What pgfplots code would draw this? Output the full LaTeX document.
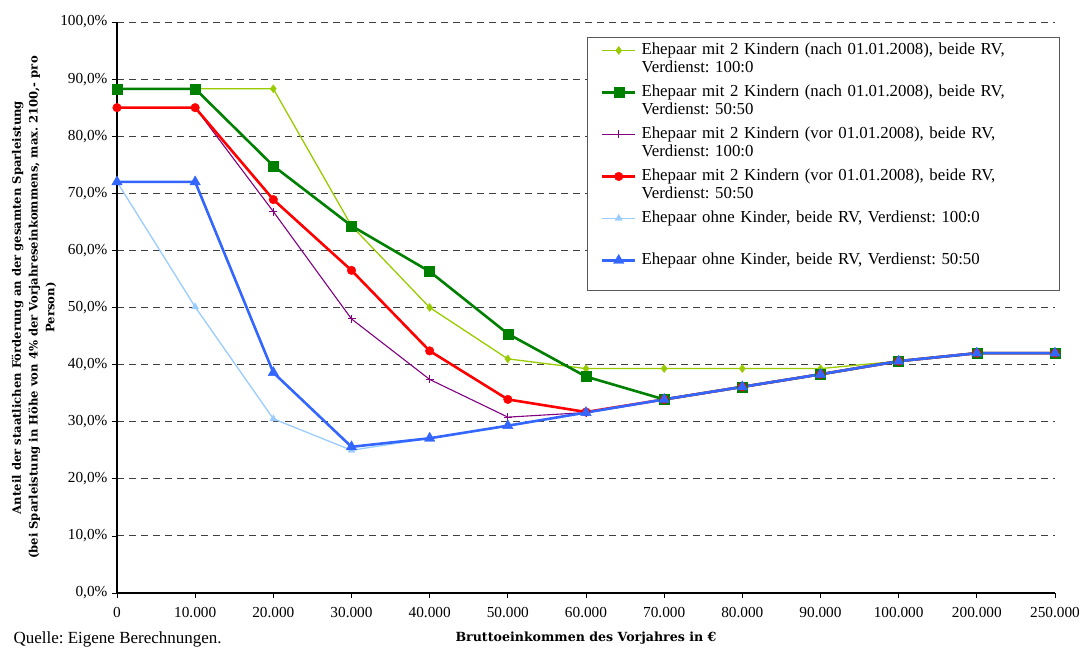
\documentclass[border=0pt]{standalone}
\usepackage{pgfplots}
\pgfplotsset{compat=1.18}
\usepackage{fontspec}
\setmainfont{Liberation Serif}
\newfontfamily\labfont{DejaVu Serif}
\definecolor{clime}{HTML}{99CC00}
\definecolor{cgreen}{HTML}{008000}
\definecolor{cpurple}{HTML}{800080}
\definecolor{cred}{HTML}{FF0000}
\definecolor{clblue}{HTML}{99CCFF}
\definecolor{cblue}{HTML}{3366FF}
\newcommand{\twoline}[2]{\makebox[0pt][l]{\smash{\raisebox{-18pt}{#2}}}#1}
\frenchspacing
\begin{document}
\begin{tikzpicture}
\begin{axis}[
  scale only axis, width=938pt, height=571pt,
  xmin=0, xmax=12, ymin=0, ymax=100,
  axis x line*=bottom, axis y line*=left,
  axis line style={black, line width=1.2pt},
  xtick={0,1,...,12},
  xticklabels={0,10.000,20.000,30.000,40.000,50.000,60.000,70.000,80.000,90.000,100.000,200.000,250.000},
  ytick={0,10,...,100},
  yticklabels={{0,0\%},{10,0\%},{20,0\%},{30,0\%},{40,0\%},{50,0\%},{60,0\%},{70,0\%},{80,0\%},{90,0\%},{100,0\%}},
  tick align=outside, major tick length=5pt,
  tick style={black, line width=0.8pt},
  ticklabel style={font=\fontsize{15.3}{17}\selectfont},
  xticklabel style={yshift=-6pt},
  yticklabel style={xshift=-1pt},
  ymajorgrids, xmajorgrids=false,
  grid style={black!75, line width=0.9pt, dash pattern=on 7pt off 5pt},
  xlabel={Bruttoeinkommen des Vorjahres in €},
  xlabel style={at={(axis description cs:0.5,-0.0788)}, anchor=center, font=\labfont\bfseries\fontsize{12.6}{14}\selectfont},
  ylabel={Anteil der staatlichen Förderung an der gesamten Sparleistung\\(bei Sparleistung in Höhe von 4\% der Vorjahreseinkommens, max. 2100,- pro\\Person)},
  ylabel style={at={(axis description cs:-0.0885,0.5)}, anchor=center, align=center, font=\labfont\bfseries\fontsize{11.6}{16.8}\selectfont},
  legend style={at={(1.0053,0.9737)}, anchor=north east, draw=black!65, line width=0.9pt,
    font=\fontsize{16.8}{18}\selectfont, inner xsep=13pt, inner ysep=0pt,
    row sep=16pt, column sep=5pt,
    nodes={text height=17.5pt, text depth=8.5pt, inner xsep=0pt, inner ysep=0pt, text width=405pt, anchor=west}},
  legend cell align=left,
  legend image code/.code={\draw[mark repeat=2,mark phase=2] plot coordinates {(0pt,0pt)(16.5pt,0pt)(33pt,0pt)};},
]
\addplot[clime, line width=1.3pt, mark=diamond*, mark size=4pt, mark options={solid, fill=clime, line width=0.4pt}]
 coordinates {(0,88.3)(1,88.3)(2,88.3)(3,64.3)(4,50.0)(5,41.0)(6,39.3)(7,39.3)(8,39.3)(9,39.3)(10,40.6)(11,42.0)(12,42.0)};
\addlegendentry{\twoline{Ehepaar mit 2 Kindern (nach 01.01.2008), beide RV,}{Verdienst: 100:0}}
\addplot[cgreen, line width=2.6pt, mark=square*, mark size=5pt, mark options={solid, fill=cgreen, line width=0.4pt}]
 coordinates {(0,88.3)(1,88.3)(2,74.8)(3,64.3)(4,56.3)(5,45.4)(6,37.9)(7,33.9)(8,36.1)(9,38.3)(10,40.6)(11,42.0)(12,42.0)};
\addlegendentry{\twoline{Ehepaar mit 2 Kindern (nach 01.01.2008), beide RV,}{Verdienst: 50:50}}
\addplot[cpurple, line width=1.1pt, mark=+, mark size=4pt, mark options={solid, line width=1pt}]
 coordinates {(0,85.0)(1,85.0)(2,66.8)(3,48.0)(4,37.4)(5,30.8)(6,31.6)(7,33.9)(8,36.1)(9,38.3)(10,40.6)(11,42.0)(12,42.0)};
\addlegendentry{\twoline{Ehepaar mit 2 Kindern (vor 01.01.2008), beide RV,}{Verdienst: 100:0}}
\addplot[cred, line width=2.6pt, mark=*, mark size=4.3pt, mark options={solid, fill=cred, line width=0.4pt}]
 coordinates {(0,85.0)(1,85.0)(2,68.9)(3,56.5)(4,42.4)(5,33.9)(6,31.7)(7,33.9)(8,36.1)(9,38.3)(10,40.6)(11,42.0)(12,42.0)};
\addlegendentry{\twoline{Ehepaar mit 2 Kindern (vor 01.01.2008), beide RV,}{Verdienst: 50:50}}
\addplot[clblue, line width=1.3pt, mark=triangle*, mark size=4pt, mark options={solid, fill=clblue, line width=0.4pt}]
 coordinates {(0,72.0)(1,50.1)(2,30.5)(3,25.0)(4,27.1)(5,29.3)(6,31.6)(7,33.9)(8,36.1)(9,38.3)(10,40.6)(11,42.0)(12,42.0)};
\addlegendentry{Ehepaar ohne Kinder, beide RV, Verdienst: 100:0}
\addplot[cblue, line width=2.6pt, mark=triangle*, mark size=6pt, mark options={solid, fill=cblue, line width=0.4pt}]
 coordinates {(0,72.0)(1,72.0)(2,38.6)(3,25.6)(4,27.1)(5,29.3)(6,31.6)(7,33.9)(8,36.1)(9,38.3)(10,40.6)(11,42.0)(12,42.0)};
\addlegendentry{Ehepaar ohne Kinder, beide RV, Verdienst: 50:50}
\addlegendimage{empty legend}
\addlegendentry[text height=0pt, text depth=0pt]{}
\end{axis}
\node[anchor=base west, font=\fontsize{17}{19}\selectfont] at ([xshift=-107pt,yshift=-50.5pt]current axis.south west) {Quelle: Eigene Berechnungen.};
\pgfresetboundingbox
\path (current axis.south west) ++(-117pt,-55pt) rectangle ++(1083pt,648pt);
\end{tikzpicture}
\end{document}
